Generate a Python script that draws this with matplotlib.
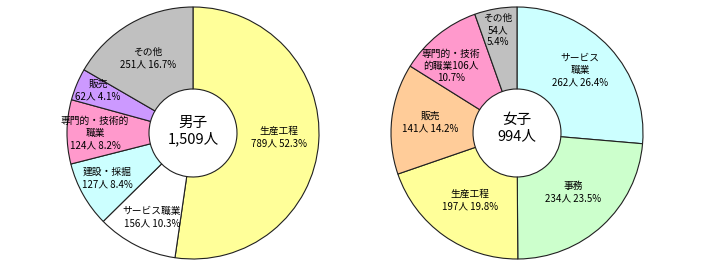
import matplotlib.pyplot as plt

plt.rcParams['font.family'] = ['Noto Sans CJK JP', 'DejaVu Sans']

# 男子
m_labels = ['生産工程', 'サービス職業', '建設・採掘', '専門的・技術的\n職業', '販売', 'その他']
m_counts = [789, 156, 127, 124, 62, 251]
m_pct = [52.3, 10.3, 8.4, 8.2, 4.1, 16.7]
m_colors = ['#FFFF99', '#FFFFFF', '#CCFFFF', '#FF99CC', '#CC99FF', '#C0C0C0']

# 女子
f_labels = ['サービス\n職業', '事務', '生産工程', '販売', '専門的・技術\n的職業', 'その他']
f_counts = [262, 234, 197, 141, 106, 54]
f_pct = [26.4, 23.5, 19.8, 14.2, 10.7, 5.4]
f_colors = ['#CCFFFF', '#CCFFCC', '#FFFF99', '#FFCC99', '#FF99CC', '#C0C0C0']

W, H = 704, 267
fig = plt.figure(figsize=(W / 100, H / 100), dpi=100)
ax = fig.add_axes([0, 0, 1, 1])
ax.set_xlim(0, W)
ax.set_ylim(0, H)
ax.axis('off')

R = 126
hole = 44
wp = dict(width=R - hole, edgecolor='#202020', linewidth=0.8)

ax.pie(m_counts, colors=m_colors, startangle=90, counterclock=False,
       center=(193, H - 133), radius=R, wedgeprops=wp, frame=True)
ax.pie(f_counts, colors=f_colors, startangle=90, counterclock=False,
       center=(517, H - 133), radius=R, wedgeprops=wp, frame=True)
ax.set_xlim(0, W)
ax.set_ylim(0, H)
ax.set_aspect('auto')
ax.axis('off')

fs = 7
# label positions in image pixels (x, y of block centre)
m_pos = [(279, 137), (152, 217), (107, 178), (95, 133), (98, 90), (148, 58)]
f_pos = [(580, 70), (573, 192), (470, 200), (430, 122), (451, 66), (498, 30)]

for i, (x, y) in enumerate(m_pos):
    txt = f'{m_labels[i]}\n{m_counts[i]}人 {m_pct[i]}%'
    ax.text(x, H - y, txt, ha='center', va='center', fontsize=fs, linespacing=1.25)

for i, (x, y) in enumerate(f_pos):
    if i == 4:
        txt = f'専門的・技術\n的職業{f_counts[i]}人\n{f_pct[i]}%'
    elif i == 5:
        txt = f'{f_labels[i]}\n{f_counts[i]}人\n{f_pct[i]}%'
    else:
        txt = f'{f_labels[i]}\n{f_counts[i]}人 {f_pct[i]}%'
    ax.text(x, H - y, txt, ha='center', va='center', fontsize=fs, linespacing=1.25)

ax.text(193, H - 131, f'男子\n{sum(m_counts):,}人', ha='center', va='center',
        fontsize=10.5, linespacing=1.2)
ax.text(517, H - 128, f'女子\n{sum(f_counts):,}人', ha='center', va='center',
        fontsize=10.5, linespacing=1.2)

fig.savefig('out.png', dpi=100)
